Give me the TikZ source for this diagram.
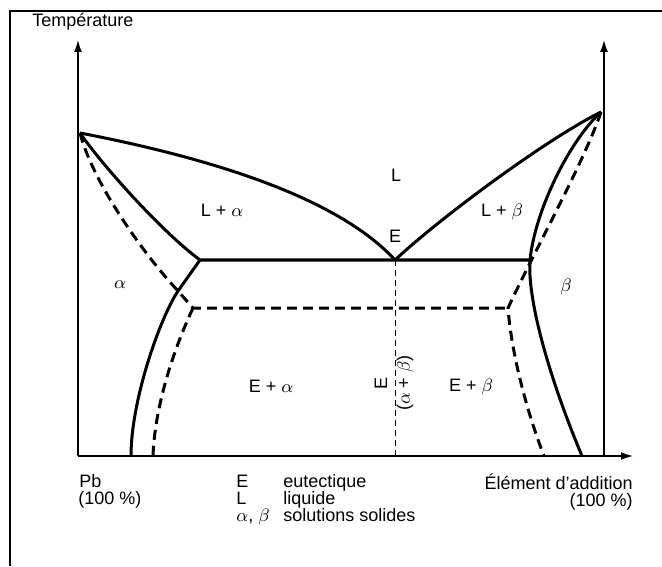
\documentclass[tikz,border=0pt]{standalone}
\usepackage{fontspec}
\setmainfont{Liberation Sans}
\usetikzlibrary{arrows.meta,positioning}

\begin{document}
\begin{tikzpicture}[x=0.5pt,y=-0.5pt,
  phase/.style={line width=1.5pt, line join=round},
  meta/.style={line width=1.5pt, dash pattern=on 5pt off 3pt},
  eutline/.style={line width=0.4pt, dash pattern=on 3pt off 2pt},
  axis/.style={line width=0.7pt, -{Latex[length=6pt,width=4pt]}},
  lbl/.style={font=\fontsize{9}{10}\selectfont, inner sep=0pt}]
\useasboundingbox (0,0) rectangle (662,566);
% frame
\draw[line width=1pt] (10,566) -- (10,11) -- (662,11);
% axes
\coordinate (O) at (78,456);
\coordinate (Ttop) at (78,40);
\coordinate (Xend) at (633,456);
\coordinate (R) at (604,456);
\coordinate (Rtop) at (604,40);
\draw[axis] (O) -- (Ttop);
\draw[axis] (O) -- (Xend);
\draw[axis] (R) -- (Rtop);
% key points
\coordinate (A) at (80,133);
\coordinate (B) at (601,112);
\coordinate (E) at (395,260);
\coordinate (Ebot) at (395,456);
\coordinate (C) at (200,260);
\coordinate (D) at (530,260);
\coordinate (F) at (178,291);
\coordinate (K) at (193,308);
\coordinate (M) at (508,308);
\coordinate (Ga) at (131,456);
\coordinate (Gb) at (582,456);
\coordinate (Ha) at (153,456);
\coordinate (Hb) at (544,456);
% equilibrium lines
\draw[phase] (A) .. controls (220,160) and (340,200) .. (E)
  .. controls (440,218) and (545,140) .. (B);
\draw[phase] (A) .. controls (102,165) and (162,232) .. (C) -- (D);
\draw[phase] (C) -- (F) .. controls (160,318) and (131,400) .. (Ga);
\draw[phase] (B) .. controls (570,140) and (535,210) .. (D)
  .. controls (527,300) and (550,380) .. (Gb);
% dashed lines
\draw[meta] (A) .. controls (92,180) and (140,250) .. (F) -- (K) -- (M);
\draw[meta] (K) .. controls (178,340) and (155,400) .. (Ha);
\draw[meta] (B) .. controls (585,160) and (535,250) .. (M)
  .. controls (512,360) and (530,420) .. (Hb);
\draw[eutline] (E) -- (Ebot);
% labels
\node[lbl, anchor=base west] (temp) at (32,27) {Température};
\node[lbl] (liq) at (396,175) {L};
\node[lbl] (la) at (222,210) {L + $\alpha$};
\node[lbl] (lb) at (502,212) {L + $\beta$};
\node[lbl] (eut) at (395,236) {E};
\node[lbl] (alpha) at (120,285) {$\alpha$};
\node[lbl] (beta) at (566,287) {$\beta$};
\node[lbl] (ea) at (271,386) {E + $\alpha$};
\node[lbl] (eb) at (471,387) {E + $\beta$};
\node[lbl, rotate=90] (eab) at (381,383) {E};
\node[lbl, rotate=90] (ab) at (405,383) {($\alpha$ + $\beta$)};
\node[lbl, anchor=base west] (pb) at (79,487) {Pb};
\node[lbl, anchor=base west] (pbp) at (78,504) {(100 \%)};
\node[lbl, anchor=base east] (elem) at (633,489) {Élément d'addition};
\node[lbl, anchor=base east] (elemp) at (633,506) {(100 \%)};
% legend
\node[lbl, anchor=base west] (kE) at (236,487) {E};
\node[lbl, anchor=base west] (kEt) at (283,487) {eutectique};
\node[lbl, anchor=base west] (kL) at (236,504) {L};
\node[lbl, anchor=base west] (kLt) at (283,504) {liquide};
\node[lbl, anchor=base west] (kab) at (236,521) {$\alpha$, $\beta$};
\node[lbl, anchor=base west] (kabt) at (283,521) {solutions solides};
\end{tikzpicture}
\end{document}
